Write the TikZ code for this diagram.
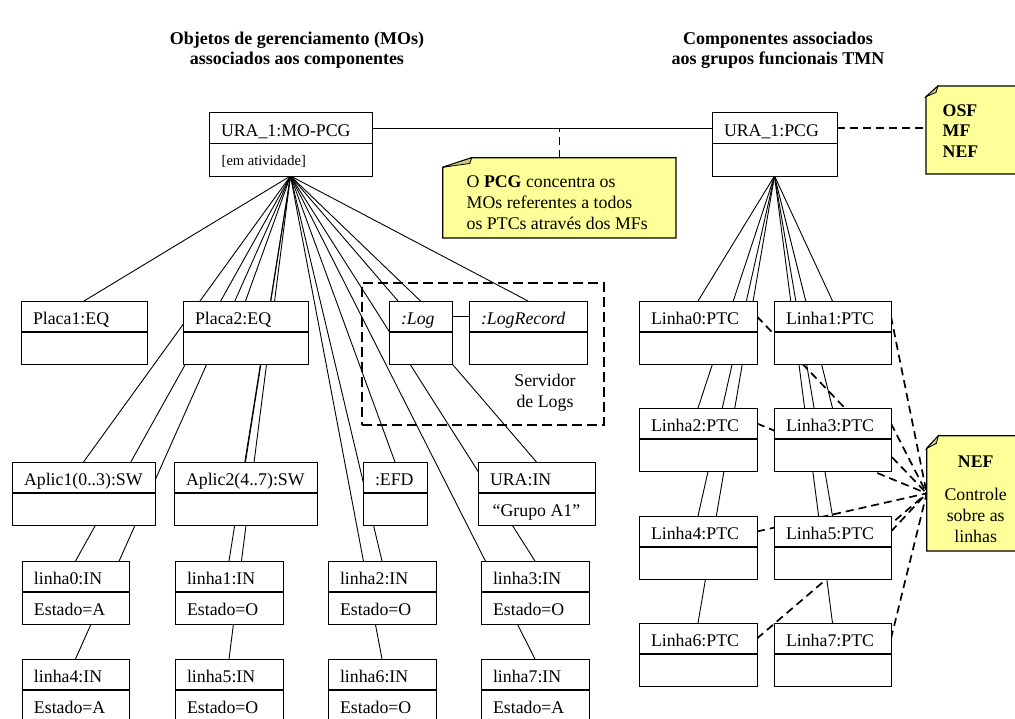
\documentclass[tikz,border=0pt]{standalone}
\usepackage{fontspec}
\setmainfont{Liberation Serif}
\definecolor{notefill}{RGB}{255,255,153}
\definecolor{foldfill}{RGB}{204,204,120}
\pgfdeclarelayer{back}
\pgfdeclarelayer{mid}
\pgfsetlayers{back,mid,main}
\tikzset{
  every node/.style={inner sep=0pt, outer sep=0pt},
  lbl/.style={font=\fontsize{17.8}{21}\selectfont, anchor=base west},
  lblc/.style={font=\fontsize{17.8}{21}\selectfont, anchor=base},
  hdr/.style={font=\fontsize{18}{21}\bfseries\selectfont, anchor=base},
  smalllbl/.style={font=\fontsize{14.5}{17}\selectfont, anchor=base west},
  objbox/.style={draw, fill=white, line width=1pt, anchor=north west},
  divline/.style={line width=1.8pt},
  fanline/.style={line width=0.9pt},
  linkline/.style={line width=0.9pt},
  dashlink/.style={line width=1.7pt, dash pattern=on 8pt off 5pt},
  groupbox/.style={draw, line width=1.7pt, dash pattern=on 10pt off 5pt, anchor=north west},
  notebody/.style={fill=notefill, draw, line width=1.2pt, line join=miter},
  notefold/.style={fill=foldfill, draw, line width=0.8pt},
}
% UML object: name, x, y (top), width, height, title
\newcommand{\umlobj}[6]{%
  \node[objbox, minimum width=#4pt, minimum height=#5pt] (#1) at (#2,#3) {};
  \draw[divline] ([yshift=-31pt]#1.north west) -- ([yshift=-31pt]#1.north east);
  \node[lbl] (#1-title) at ([xshift=12pt,yshift=-23.5pt]#1.north west) {#6};
}
% text of the lower compartment
\newcommand{\umlbody}[2]{%
  \node[lbl] (#1-body) at ([xshift=12pt,yshift=-54.5pt]#1.north west) {#2};
}
% note with a folded corner: name, x, y, width, height, fold width, fold height
\newcommand{\umlnote}[7]{%
  \node[anchor=north west, minimum width=#4pt, minimum height=#5pt] (#1) at (#2,#3) {};
  \draw[notebody] ([yshift=-#7pt]#1.north west) -- ([xshift=#6pt]#1.north west)
    -- (#1.north east) -- (#1.south east) -- (#1.south west) -- cycle;
  \draw[notefold] ([yshift=-#7pt]#1.north west) -- ([xshift=#6pt]#1.north west)
    -- ([xshift=#6pt-2pt, yshift=-0.6*#7pt]#1.north west) -- cycle;
}
\begin{document}
\begin{tikzpicture}[x=1pt, y=-1pt]
\useasboundingbox (0,0) rectangle (1015,718);
\begin{pgfonlayer}{back}
\fill[white] (0,0) rectangle (1015,718);
\end{pgfonlayer}
\clip (0,0) rectangle (1015,718);

% column headings
\node[hdr] (hdrL1) at (297,44) {Objetos de gerenciamento (MOs)};
\node[hdr] (hdrL2) at (297,64) {associados aos componentes};
\node[hdr] (hdrR1) at (778,44) {Componentes associados};
\node[hdr] (hdrR2) at (778,64) {aos grupos funcionais TMN};

% ---------- managed objects ----------
\umlobj{mopcg}{209}{112.5}{163}{63.5}{URA\_1:MO-PCG}
\node[smalllbl] (mopcg-body) at ([xshift=12.7pt,yshift=-52.5pt]mopcg.north west) {[em atividade]};
\umlobj{pcg}{712}{112.5}{125}{63.5}{URA\_1:PCG}

\umlobj{placa1}{21}{301}{126}{63}{Placa1:EQ}
\umlobj{placa2}{183}{301}{125}{63}{Placa2:EQ}
\umlobj{log}{389}{301}{63}{63}{\textit{:Log}}
\umlobj{logrec}{469}{301}{118}{63}{\textit{:LogRecord}}

\umlobj{aplic1}{12}{462}{143}{63}{Aplic1(0..3):SW}
\umlobj{aplic2}{174}{462}{143}{63}{Aplic2(4..7):SW}
\umlobj{efd}{363}{462}{64}{63}{:EFD}
\umlobj{urain}{478}{462}{117}{63}{URA:IN}
\node[lbl] (urain-body) at ([xshift=14.7pt,yshift=-54.5pt]urain.north west) {“Grupo A1”};

\umlobj{linha0}{22}{561}{107}{63}{linha0:IN}\umlbody{linha0}{Estado=A}
\umlobj{linha1}{175}{561}{108}{63}{linha1:IN}\umlbody{linha1}{Estado=O}
\umlobj{linha2}{328}{561}{108}{63}{linha2:IN}\umlbody{linha2}{Estado=O}
\umlobj{linha3}{481}{561}{108}{63}{linha3:IN}\umlbody{linha3}{Estado=O}
\umlobj{linha4}{22}{659}{107}{63}{linha4:IN}\umlbody{linha4}{Estado=A}
\umlobj{linha5}{175}{659}{108}{63}{linha5:IN}\umlbody{linha5}{Estado=O}
\umlobj{linha6}{328}{659}{108}{63}{linha6:IN}\umlbody{linha6}{Estado=O}
\umlobj{linha7}{481}{659}{108}{63}{linha7:IN}\umlbody{linha7}{Estado=A}

% ---------- TMN components ----------
\umlobj{ptc0}{639}{301}{118}{63}{Linha0:PTC}
\umlobj{ptc1}{774}{301}{117}{63}{Linha1:PTC}
\umlobj{ptc2}{639}{408}{118}{63.5}{Linha2:PTC}
\umlobj{ptc3}{774}{408}{117}{63.5}{Linha3:PTC}
\umlobj{ptc4}{639}{516}{118}{63}{Linha4:PTC}
\umlobj{ptc5}{774}{516}{117}{63}{Linha5:PTC}
\umlobj{ptc6}{639}{623}{118}{63.5}{Linha6:PTC}
\umlobj{ptc7}{774}{623}{117}{63.5}{Linha7:PTC}

% group frame of the log server
\begin{pgfonlayer}{mid}
\node[groupbox, minimum width=242pt, minimum height=142pt] (logsrv) at (362,283) {};
\end{pgfonlayer}
\node[lblc] (logsrv-l1) at (545,386.7) {Servidor};
\node[lblc] (logsrv-l2) at (545,407.7) {de Logs};

% notes
\umlnote{pcgnote}{442.7}{157.7}{233.3}{80.3}{29}{9.6}
\node[lbl] (pcgnote-l1) at (466.7,187.3) {O \textbf{PCG} concentra os};
\node[lbl] (pcgnote-l2) at (466.7,208.3) {MOs referentes a todos};
\node[lbl] (pcgnote-l3) at (466.7,229) {os PTCs através dos MFs};

\umlnote{osf}{926}{86}{100}{88}{12}{10.7}
\node[lbl, font=\fontsize{17.8}{21}\bfseries\selectfont] (osf-l1) at (942.7,116) {OSF};
\node[lbl, font=\fontsize{17.8}{21}\bfseries\selectfont] (osf-l2) at (942.7,136.7) {MF};
\node[lbl, font=\fontsize{17.8}{21}\bfseries\selectfont] (osf-l3) at (942.7,157.3) {NEF};

\umlnote{nef}{926.7}{435.7}{100}{115.3}{11.7}{12.7}
\node[lblc, font=\fontsize{17.8}{21}\bfseries\selectfont] (nef-l1) at (975.7,467.3) {NEF};
\node[lblc] (nef-l2) at (975.7,500) {Controle};
\node[lblc] (nef-l3) at (975.7,521) {sobre as};
\node[lblc] (nef-l4) at (975.7,542.3) {linhas};

% ---------- connectors, under the boxes ----------
\begin{pgfonlayer}{back}
\foreach \t in {placa1,placa2,log,logrec,aplic1,aplic2,efd,urain,
                linha0,linha1,linha2,linha3,linha4,linha5,linha6,linha7}
  \draw[fanline] (mopcg.south) -- (\t.north);
\foreach \t in {ptc0,ptc1,ptc2,ptc3,ptc4,ptc5,ptc6,ptc7}
  \draw[fanline] (pcg.south) -- (\t.north);
\foreach \t in {ptc0,ptc1,ptc2,ptc3,ptc4,ptc5,ptc6,ptc7}
  \draw[dashlink] ([yshift=-15.5pt]\t.north east) -- (nef.west);
\end{pgfonlayer}

\draw[linkline] ([yshift=-15.5pt]mopcg.north east) coordinate (lnkA) -- ([yshift=-15.5pt]pcg.north west);
\draw[linkline] ([yshift=-15.5pt]log.north east) -- ([yshift=-15.5pt]logrec.north west);
\draw[dashlink] (pcgnote.north) -- (pcgnote.north |- lnkA);
\draw[dashlink] ([yshift=-15.5pt]pcg.north east) coordinate (lnkB) -- (osf.west |- lnkB);
\end{tikzpicture}
\end{document}
